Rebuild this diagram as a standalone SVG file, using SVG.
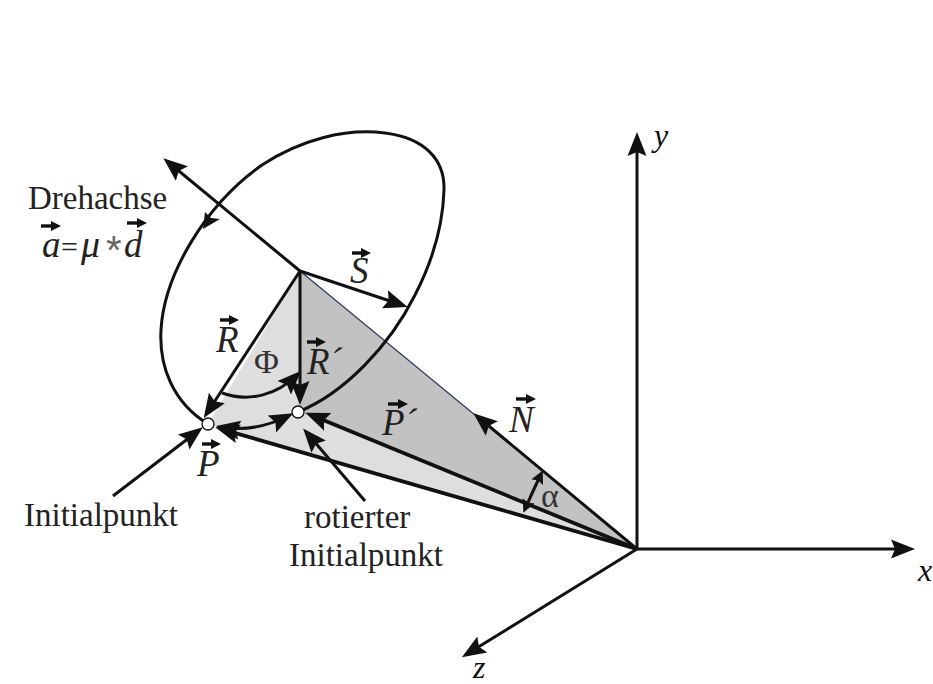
<svg xmlns="http://www.w3.org/2000/svg" width="933" height="684" viewBox="0 0 933 684">
<style>
.t{font-family:"Liberation Serif","Times New Roman",serif;font-size:33px;fill:#222}
.i{font-family:"Liberation Serif","Times New Roman",serif;font-size:37px;font-style:italic;fill:#222}
.a{font-family:"Liberation Serif","Times New Roman",serif;font-size:32px;font-style:italic;fill:#111}
.g{font-family:"Liberation Serif","Times New Roman",serif;font-size:34px;fill:#333}
.c{fill:none;stroke:#111;stroke-width:3}
.w{stroke-width:3.8}
.h{marker-end:url(#ah)}
.hb{marker-end:url(#ah);marker-start:url(#as)}
.hs{marker-end:url(#bh);marker-start:url(#bs)}
.v{fill:none;stroke:#111;stroke-width:3.4;marker-end:url(#av)}
</style>
<defs>
<marker id="ah" markerUnits="userSpaceOnUse" markerWidth="27" markerHeight="22" refX="18" refY="11" orient="auto"><path d="M0,1.5 L24,11 L0,20.5 L4,11 Z" fill="#111"/></marker>
<marker id="as" markerUnits="userSpaceOnUse" markerWidth="27" markerHeight="22" refX="6" refY="11" orient="auto"><path d="M24,1.5 L0,11 L24,20.5 L20,11 Z" fill="#111"/></marker>
<marker id="bh" markerUnits="userSpaceOnUse" markerWidth="16" markerHeight="16" refX="9" refY="8" orient="auto"><path d="M0,1.5 L13,8 L0,14.5 L2,8 Z" fill="#111"/></marker>
<marker id="bs" markerUnits="userSpaceOnUse" markerWidth="16" markerHeight="16" refX="4" refY="8" orient="auto"><path d="M13,1.5 L0,8 L13,14.5 L11,8 Z" fill="#111"/></marker>
<marker id="av" markerUnits="userSpaceOnUse" markerWidth="12" markerHeight="12" refX="3" refY="6" orient="auto"><path d="M0,1 L10,6 L0,11 Z" fill="#111"/></marker>
</defs>
<rect width="933" height="684" fill="#fff"/>
<g id="faces">
<polygon points="300,271 208,424 637,549 298,412" fill="#dedede"/>
<polygon points="300,271 637,549 298,412" fill="#c2c2c2"/>
<line x1="300" y1="271" x2="475" y2="415" stroke="#2b3560" stroke-width="1.2"/>
</g>
<g id="connectors">
<path class="c" d="M208,424 C172,402 159,365 161,330 C164,275 205,205 262,165 C300,140 345,128 385,133 C425,138 445,160 444,190 C443,225 432,262 415,295 C390,345 345,393 298,412"/>
<path d="M203,229 L205,212 L211,218 L220,219 Z" fill="#111"/>
<line class="c h" x1="300" y1="271" x2="168" y2="162"/>
<line class="c h" x1="300" y1="271" x2="402" y2="305"/>
<line class="c h" x1="300" y1="271" x2="207" y2="413"/>
<line class="c h" x1="300" y1="271" x2="300" y2="399"/>
<line class="c w h" x1="637" y1="549" x2="221" y2="429"/>
<line class="c w h" x1="637" y1="549" x2="311" y2="415"/>
<line class="c h" x1="637" y1="549" x2="478" y2="417"/>
<path class="c h" d="M222,393 C250,403 278,394 297,375"/>
<path class="c hb" d="M222,427 C245,431 268,426 288,416"/>
<path class="c hs" d="M525,509 Q533,491 541,474"/>
<line class="c h" x1="113" y1="496" x2="198" y2="431"/>
<line class="c h" x1="365" y1="501" x2="307" y2="433"/>
<line class="c h" x1="637" y1="549" x2="637" y2="138"/>
<line class="c h" x1="637" y1="549" x2="909" y2="549"/>
<line class="c h" x1="637" y1="549" x2="467" y2="654"/>
</g>
<g id="point-P"><circle cx="208" cy="424" r="6" fill="#fff" stroke="#111" stroke-width="1.3"/></g>
<g id="point-P-rotated"><circle cx="298" cy="412" r="6" fill="#fff" stroke="#111" stroke-width="1.3"/></g>
<g id="labels">
<text class="t" x="28" y="209">Drehachse</text>
<line class="v" x1="41" y1="226" x2="54" y2="226"/><line class="v" x1="127" y1="223" x2="140" y2="223"/>
<text class="i" y="257"><tspan x="42">a</tspan><tspan x="61" font-style="normal" font-size="30">=</tspan><tspan x="81" font-size="38">μ</tspan><tspan x="106" y="264" font-style="normal" font-family="Liberation Sans" font-size="40" fill="#666">*</tspan><tspan x="124" y="257">d</tspan></text>
<line class="v" x1="220" y1="320" x2="232" y2="320"/><text class="i" x="216" y="352">R</text>
<line class="v" x1="352" y1="253" x2="364" y2="253"/><text class="i" x="350" y="283">S</text>
<line class="v" x1="307" y1="342" x2="319" y2="342"/><text class="i" x="307" y="374">R´</text>
<line class="v" x1="388" y1="404" x2="401" y2="404"/><text class="i" x="382" y="435">P´</text>
<line class="v" x1="516" y1="399" x2="529" y2="399"/><text class="i" x="509" y="432">N</text>
<line class="v" x1="202" y1="444" x2="214" y2="444"/><text class="i" x="197" y="476">P</text>
<text class="g" x="254" y="373">Φ</text>
<text class="g" x="541" y="507">α</text>
<text class="t" x="24" y="526">Initialpunkt</text>
<text class="t" x="304" y="528">rotierter</text>
<text class="t" x="289" y="566">Initialpunkt</text>
<text class="a" x="654" y="146">y</text>
<text class="a" x="918" y="581">x</text>
<text class="a" x="473" y="678">z</text>
</g>
</svg>
